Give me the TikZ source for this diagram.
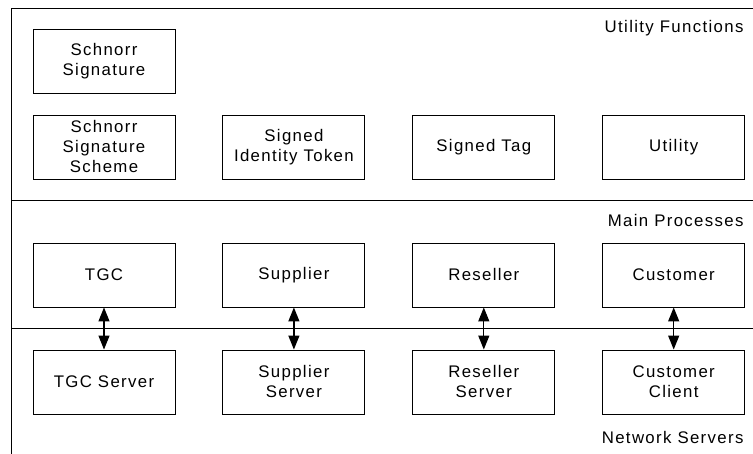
\documentclass[tikz,border=0pt]{standalone}
\usepackage{fontspec}
\setmainfont[LetterSpace=8]{Liberation Sans}
\usetikzlibrary{positioning,arrows.meta}

\begin{document}
\begin{tikzpicture}[
    x=1pt,
    y=1pt,
    module/.style={
      draw=black,
      line width=0.9pt,
      minimum width=142pt,
      minimum height=64pt,
      inner sep=0pt,
      align=center,
      font=\fontsize{16.8}{20}\selectfont
    },
    layer/.style={
      anchor=east,
      font=\fontsize{16.8}{20}\selectfont
    },
    link/.style={
      {Triangle[length=14pt,width=11pt]}-{Triangle[length=14pt,width=11pt]},
      line width=1.2pt
    },
    node distance=47pt
  ]

    \useasboundingbox (0,0) rectangle (753,454);

    % Frame and layer separators
    \draw[line width=0.9pt] (753,446) -- (11,446) -- (11,0);
    \draw[line width=0.9pt] (11,254) -- (753,254);
    \draw[line width=0.9pt] (11,126) -- (753,126);

    % Layer titles
    \node[layer] (utilfns) at (747,426) {Utility Functions};
    \node[layer] (mainproc) at (747,233) {Main Processes};
    \node[layer] (netsrv) at (747,16) {Network Servers};

    % Utility functions
    \node[module] (sig) at (104,393) {Schnorr\\Signature};
    \node[module] (scheme) at (104,307) {Schnorr\\Signature\\Scheme};
    \node[module, right=of scheme] (token) {Signed\\Identity Token};
    \node[module, right=of token] (tag) {Signed Tag};
    \node[module, right=of tag] (util) {Utility};

    % Main processes
    \node[module] (tgc) at (104,179) {TGC};
    \node[module, right=of tgc] (supplier) {Supplier};
    \node[module, right=of supplier] (reseller) {Reseller};
    \node[module, right=of reseller] (customer) {Customer};

    % Network servers
    \node[module] (tgcsrv) at (104,72) {TGC Server};
    \node[module, right=of tgcsrv] (suppliersrv) {Supplier\\Server};
    \node[module, right=of suppliersrv] (resellersrv) {Reseller\\Server};
    \node[module, right=of resellersrv] (customercl) {Customer\\Client};

    % Process to server links
    \draw[link] (tgc) -- (tgcsrv);
    \draw[link] (supplier) -- (suppliersrv);
    \draw[link] (reseller) -- (resellersrv);
    \draw[link] (customer) -- (customercl);

  \end{tikzpicture}
\end{document}
